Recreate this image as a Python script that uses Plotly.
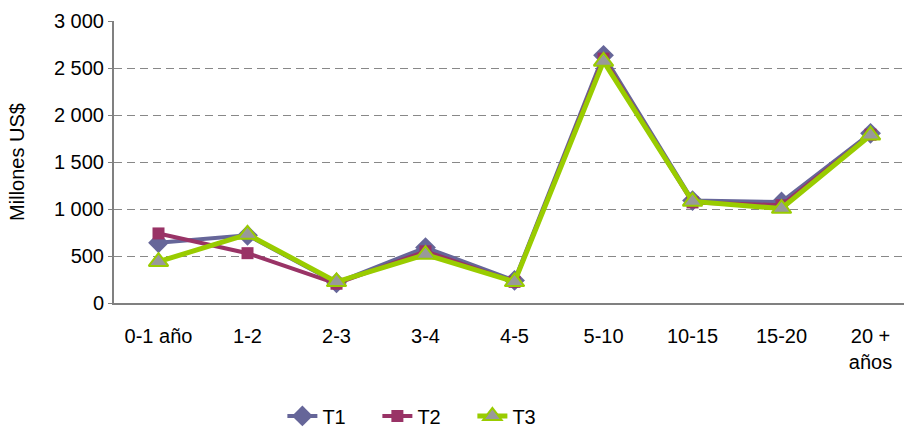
import plotly.graph_objects as go

categories = ["0-1 año", "1-2", "2-3", "3-4", "4-5", "5-10", "10-15", "15-20", "20 +<br>años"]
t1 = [640, 720, 215, 590, 240, 2635, 1090, 1075, 1805]
t2 = [740, 530, 205, 550, 225, 2600, 1070, 1040, 1790]
t3 = [440, 730, 225, 515, 225, 2570, 1080, 1005, 1785]
y_ticks = [0, 500, 1000, 1500, 2000, 2500, 3000]
y_tick_text = ["0", "500", "1 000", "1 500", "2 000", "2 500", "3 000"]

x = list(range(len(categories)))

fig = go.Figure()
fig.add_trace(go.Scatter(
    x=x, y=t1, name="T1", mode="lines+markers",
    line=dict(color="#666699", width=4),
    marker=dict(symbol="diamond", size=16, color="#666699"),
))
fig.add_trace(go.Scatter(
    x=x, y=t2, name="T2", mode="lines+markers",
    line=dict(color="#993366", width=4),
    marker=dict(symbol="square", size=12, color="#993366"),
))
fig.add_trace(go.Scatter(
    x=x, y=t3, name="T3", mode="lines+markers",
    line=dict(color="#99CC00", width=5),
    marker=dict(symbol="triangle-up", size=17, color="#999999",
                line=dict(color="#99CC00", width=2)),
))

font = "Liberation Sans, Arial, sans-serif"
fig.update_layout(
    width=904, height=431,
    margin=dict(l=114, r=0, t=21, b=128),
    paper_bgcolor="white", plot_bgcolor="white",
    font=dict(family=font, size=20, color="#000000"),
    showlegend=True,
    legend=dict(orientation="h", x=0.47, xref="container", xanchor="center",
                y=0.035, yref="container", yanchor="middle",
                font=dict(size=20), tracegroupgap=0,
                entrywidth=50, entrywidthmode="pixels"),
    xaxis=dict(
        tickmode="array", tickvals=x, ticktext=categories,
        range=[-0.5, 8.376], showgrid=False, zeroline=False,
        showline=True, linecolor="#808080", linewidth=2,
        ticks="", tickfont=dict(size=20), ticklabelstandoff=14,
        automargin=False,
    ),
    yaxis=dict(
        range=[0, 3000], tickmode="array", tickvals=y_ticks, ticktext=y_tick_text,
        showgrid=True, gridcolor="#888888", griddash="8px,5px", gridwidth=1,
        zeroline=False, showline=True, linecolor="#808080", linewidth=2,
        ticks="outside", ticklen=4, tickcolor="#808080",
        tickfont=dict(size=20), automargin=False,
        title=dict(text="Millones US$", font=dict(size=20), standoff=24),
    ),
)

fig.write_html("out.html")
